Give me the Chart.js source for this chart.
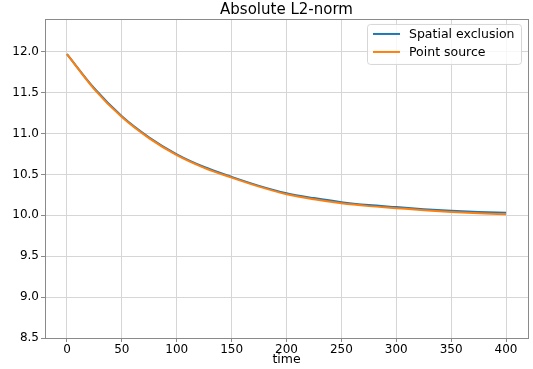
<!DOCTYPE html>
<html>
<head>
<meta charset="utf-8">
<script src="https://cdn.jsdelivr.net/npm/chart.js@4/dist/chart.umd.min.js"></script>
<style>
  html, body { margin: 0; padding: 0; background: #fff; }
  #wrap { width: 533px; height: 369px; }
</style>
</head>
<body>
<div id="wrap"><canvas id="lineChart" width="533" height="369"></canvas></div>
<script>
// values, every 25 time units
const times = [0, 25, 50, 75, 100, 125, 150, 175, 200, 225, 250, 275, 300, 325, 350, 375, 400];
const spatialExclusion = [11.97, 11.55, 11.21, 10.95, 10.745, 10.59, 10.47, 10.36, 10.27, 10.21, 10.16, 10.125, 10.10, 10.075, 10.055, 10.04, 10.03];
const pointSource = [11.97, 11.54, 11.20, 10.94, 10.735, 10.58, 10.46, 10.35, 10.258, 10.195, 10.146, 10.112, 10.087, 10.062, 10.041, 10.025, 10.012];
const xTicks = [0, 50, 100, 150, 200, 250, 300, 350, 400];
const yTicks = [8.5, 9.0, 9.5, 10.0, 10.5, 11.0, 11.5, 12.0];
const seriesNames = ['Spatial exclusion', 'Point source'];

const blue = '#1f77b4';
const orange = '#ff7f0e';
const fontFamily = "'DejaVu Sans', sans-serif";

function toPoints(ys) {
    return times.map((t, i) => ({ x: t, y: ys[i] }));
}

// frame round the plot area (matplotlib spines)
const framePlugin = {
    id: 'frame',
    afterDraw: (chart) => {
        const ctx = chart.ctx;
        const a = chart.chartArea;
        ctx.save();
        ctx.strokeStyle = '#8a8a8a';
        ctx.lineWidth = 1;
        ctx.strokeRect(Math.round(a.left) + 0.5, Math.round(a.top) + 0.5,
            Math.round(a.right - a.left), Math.round(a.bottom - a.top));
        ctx.restore();
    }
};

// boxed legend in the upper right corner
const legendBoxPlugin = {
    id: 'legendBox',
    afterDraw: (chart) => {
        const ctx = chart.ctx;
        const a = chart.chartArea;
        const boxW = 154, boxH = 40;
        const x0 = a.right - 7 - boxW;
        const y0 = a.top + 5;
        ctx.save();
        ctx.beginPath();
        ctx.roundRect(x0 + 0.5, y0 + 0.5, boxW, boxH, 3);
        ctx.fillStyle = 'rgba(255,255,255,0.8)';
        ctx.fill();
        ctx.strokeStyle = '#d6d6d6';
        ctx.lineWidth = 1;
        ctx.stroke();

        ctx.font = '12.5px ' + fontFamily;
        ctx.textAlign = 'left';
        ctx.textBaseline = 'middle';
        const colours = [blue, orange];
        seriesNames.forEach((name, i) => {
            const ly = y0 + 10 + i * 18;
            ctx.beginPath();
            ctx.moveTo(x0 + 6, ly);
            ctx.lineTo(x0 + 33, ly);
            ctx.strokeStyle = colours[i];
            ctx.lineWidth = 2;
            ctx.stroke();
            ctx.fillStyle = '#000';
            ctx.fillText(name, x0 + 42, ly + 0.5);
        });
        ctx.restore();
    }
};

const ctx = document.getElementById('lineChart').getContext('2d');
const chart = new Chart(ctx, {
    type: 'line',
    data: {
        datasets: [{
            label: seriesNames[0],
            data: toPoints(spatialExclusion),
            borderColor: blue,
            borderWidth: 2,
            pointRadius: 0,
            fill: false,
            cubicInterpolationMode: 'monotone',
            order: 1
        }, {
            label: seriesNames[1],
            data: toPoints(pointSource),
            borderColor: orange,
            borderWidth: 2,
            pointRadius: 0,
            fill: false,
            cubicInterpolationMode: 'monotone',
            order: 0
        }]
    },
    options: {
        responsive: false,
        animation: false,
        devicePixelRatio: 1,
        layout: { padding: { left: 0, right: 5, top: 2, bottom: 0 } },
        scales: {
            x: {
                type: 'linear',
                min: -20,
                max: 420,
                afterBuildTicks: (scale) => { scale.ticks = xTicks.map(v => ({ value: v })); },
                afterFit: (scale) => { scale.height = 31; },
                grid: { color: '#d6d6d6', tickColor: '#8a8a8a', tickLength: 4 },
                border: { display: false },
                ticks: {
                    color: '#000',
                    padding: 1,
                    maxRotation: 0,
                    font: { family: fontFamily, size: 12 },
                    callback: (v) => String(v)
                },
                title: {
                    display: true,
                    text: 'time',
                    color: '#000',
                    font: { family: fontFamily, size: 12.5 },
                    padding: { top: 0, bottom: 2 }
                }
            },
            y: {
                min: 8.5,
                max: 12.4,
                afterBuildTicks: (scale) => { scale.ticks = yTicks.map(v => ({ value: v })); },
                afterFit: (scale) => { scale.width = 45; },
                grid: { color: '#d6d6d6', tickColor: '#8a8a8a', tickLength: 4 },
                border: { display: false },
                ticks: {
                    color: '#000',
                    padding: 2,
                    font: { family: fontFamily, size: 12 },
                    callback: (v) => v.toFixed(1)
                }
            }
        },
        plugins: {
            legend: { display: false },
            tooltip: { enabled: false },
            title: {
                display: true,
                text: 'Absolute L2-norm',
                fullSize: false,
                color: '#000',
                font: { family: fontFamily, size: 15, weight: 'normal', lineHeight: 1.13 },
                padding: { top: 0, bottom: 0 }
            }
        }
    },
    plugins: [framePlugin, legendBoxPlugin]
});
</script>
</body>
</html>
